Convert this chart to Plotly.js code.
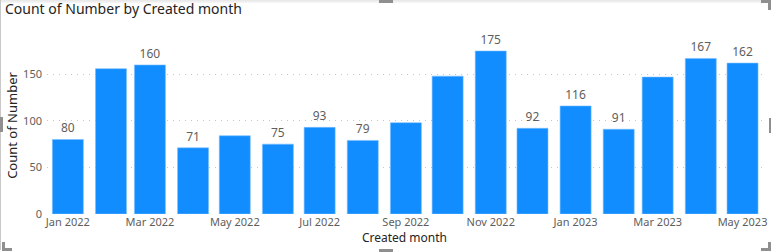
<!DOCTYPE html>
<html>
<head>
<meta charset="utf-8">
<script src="https://cdn.plot.ly/plotly-3.0.1.min.js"></script>
<style>
  html, body { margin: 0; padding: 0; background: #fff; }
  #wrap { position: relative; width: 771px; height: 252px; overflow: hidden; }
  #chart { position: absolute; left: 0; top: 0; width: 771px; height: 252px; }
  .fr { position: absolute; pointer-events: none; }
</style>
</head>
<body>
<div id="wrap">
  <div id="chart"></div>
  <div class="fr" style="left:0;top:0;width:771px;height:3px;background:linear-gradient(#e6e6e6,#f7f7f7);"></div>
  <div class="fr" style="left:0;top:0;width:1px;height:250px;background:#c8c8c8;"></div>
  <div class="fr" style="left:0;top:117px;width:3px;height:15px;background:#8f8f8f;"></div>
  <div class="fr" style="left:379px;top:0;width:14px;height:3px;background:#8f8f8f;"></div>
  <div class="fr" style="left:761px;top:0;width:10px;height:3px;background:#8f8f8f;"></div>
  <div class="fr" style="left:768px;top:0;width:3px;height:10px;background:#8f8f8f;"></div>
  <div class="fr" style="left:769px;top:118px;width:2px;height:15px;background:#8f8f8f;"></div>
  <div class="fr" style="left:2px;top:242px;width:3px;height:9px;background:#8f8f8f;"></div>
  <div class="fr" style="left:2px;top:248px;width:10px;height:3px;background:#8f8f8f;"></div>
  <div class="fr" style="left:379px;top:249px;width:14px;height:3px;background:#8f8f8f;"></div>
  <div class="fr" style="left:768px;top:242px;width:3px;height:9px;background:#8f8f8f;"></div>
  <div class="fr" style="left:761px;top:248px;width:10px;height:3px;background:#8f8f8f;"></div>
</div>
<script>
const months = ['2022-01-01','2022-02-01','2022-03-01','2022-04-01','2022-05-01','2022-06-01',
                '2022-07-01','2022-08-01','2022-09-01','2022-10-01','2022-11-01','2022-12-01',
                '2023-01-01','2023-02-01','2023-03-01','2023-04-01','2023-05-01'];
const counts = [80, 156, 160, 71, 84, 75, 93, 79, 98, 148, 175, 92, 116, 91, 147, 167, 162];
const showLabel = [true, false, true, true, false, true, true, true, false, false, true, true, true, true, false, true, true];
const tickDates = ['2022-01-01','2022-03-01','2022-05-01','2022-07-01','2022-09-01','2022-11-01',
                   '2023-01-01','2023-03-01','2023-05-01'];
const tickLabels = ['Jan 2022','Mar 2022','May 2022','Jul 2022','Sep 2022','Nov 2022',
                    'Jan 2023','Mar 2023','May 2023'];
const yTicks = [0, 50, 100, 150];

const FONT = 'Noto Sans, Open Sans, DejaVu Sans, sans-serif';
const DAY = 86400000;

const trace = {
  type: 'bar',
  x: months,
  y: counts,
  width: months.map(() => 22.3 * DAY),
  text: counts.map((v, i) => showLabel[i] ? String(v) : ''),
  textposition: 'outside',
  cliponaxis: false,
  textfont: { family: FONT, size: 12, color: '#605E5C' },
  marker: { color: '#118DFF', line: { color: '#7cc0ff', width: 0.6 } },
  hoverinfo: 'x+y'
};

const layout = {
  width: 771,
  height: 252,
  margin: { l: 47, r: 9, t: 37, b: 38, pad: 0 },
  paper_bgcolor: '#ffffff',
  plot_bgcolor: '#ffffff',
  showlegend: false,
  bargap: 0,
  title: {
    text: 'Count of Number by Created month',
    font: { family: FONT, size: 14, color: '#252423' },
    x: 5 / 771, xanchor: 'left', xref: 'container',
    y: 1 - 9 / 252, yanchor: 'middle', yref: 'container'
  },
  xaxis: {
    type: 'date',
    range: ['2021-12-17', '2023-05-15'],
    tickmode: 'array',
    tickvals: tickDates,
    ticktext: tickLabels,
    ticks: '',
    showgrid: false,
    zeroline: false,
    showline: false,
    tickfont: { family: FONT, size: 11, color: '#605E5C' },
    title: { text: 'Created month', font: { family: FONT, size: 12, color: '#252423' }, standoff: 4 }
  },
  yaxis: {
    range: [0, 190],
    tickmode: 'array',
    tickvals: yTicks,
    ticks: '',
    showgrid: true,
    gridcolor: '#c8c6c4',
    griddash: '1px,5px',
    gridwidth: 1,
    zeroline: false,
    showline: false,
    ticklabelstandoff: 4,
    tickfont: { family: FONT, size: 11, color: '#605E5C' },
    title: { text: 'Count of Number', font: { family: FONT, size: 13, color: '#252423' }, standoff: 2 }
  }
};

Plotly.newPlot('chart', [trace], layout, { displayModeBar: false, staticPlot: true });
</script>
</body>
</html>
